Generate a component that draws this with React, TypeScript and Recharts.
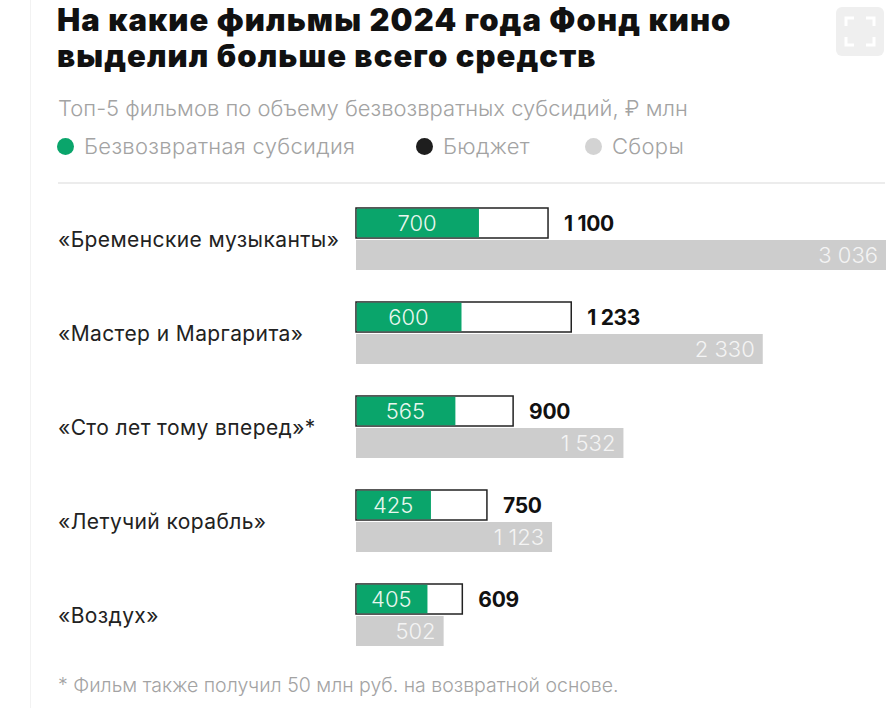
import React from "react";
import { BarChart, Bar, XAxis, YAxis, LabelList } from "recharts";

const films = [
  "«Бременские музыканты»",
  "«Мастер и Маргарита»",
  "«Сто лет тому вперед»*",
  "«Летучий корабль»",
  "«Воздух»",
];
const subsidy = [700, 600, 565, 425, 405];
const budget = [1100, 1233, 900, 750, 609];
const boxOffice = [3036, 2330, 1532, 1123, 502];

const title1 = "На какие фильмы 2024 года Фонд кино";
const title2 = "выделил больше всего средств";
const subtitle = "Топ-5 фильмов по объему безвозвратных субсидий, ₽ млн";
const legendItems = [
  { label: "Безвозвратная субсидия", color: "#0aa56b" },
  { label: "Бюджет", color: "#1e1e1e" },
  { label: "Сборы", color: "#d3d3d3" },
];
const footnote = "* Фильм также получил 50 млн руб. на возвратной основе.";

const data = films.map((name, i) => ({
  name,
  subsidy: subsidy[i],
  budget: budget[i],
  box: boxOffice[i],
}));

const FONT = "Inter, 'Liberation Sans', sans-serif";
const GREEN = "#0aa56b";
const GRAY = "#cdcdcd";

const fmt = (v: number) => {
  const s = String(v);
  return s.length > 3 ? s.slice(0, s.length - 3) + " " + s.slice(-3) : s;
};

const BudgetShape = (props: any) => {
  const { x, y, width, height, payload } = props;
  const gw = (width * payload.subsidy) / payload.budget;
  return (
    <g>
      <rect x={x} y={y} width={width} height={height} fill="#fff" stroke="#222" strokeWidth={1.5} />
      <rect x={x + 0.75} y={y + 0.75} width={gw} height={height - 1.5} fill={GREEN} />
      <text
        x={x + gw / 2}
        y={y + height / 2}
        dy="0.36em"
        textAnchor="middle"
        fill="#e9f7ef"
        fontSize={22}
        fontFamily={FONT}
        fontWeight={300}
      >
        {payload.subsidy}
      </text>
    </g>
  );
};

const BudgetLabel = (props: any) => {
  const { x, y, width, height, value } = props;
  return (
    <text
      x={x + width + 16}
      y={y + height / 2}
      dy="0.36em"
      textAnchor="start"
      fill="#111"
      fontSize={21}
      fontWeight={700}
      fontFamily={FONT}
      letterSpacing={-0.3}
    >
      {fmt(value)}
    </text>
  );
};

const BoxLabel = (props: any) => {
  const { x, y, width, height, value } = props;
  return (
    <text
      x={x + width - 8}
      y={y + height / 2}
      dy="0.36em"
      textAnchor="end"
      fill="#f4f4f4"
      fontSize={22}
      fontWeight={300}
      fontFamily={FONT}
    >
      {fmt(value)}
    </text>
  );
};

const FilmTick = (props: any) => {
  const { y, payload } = props;
  return (
    <text x={58} y={y} dy="0.36em" textAnchor="start" fill="#222" fontSize={21} letterSpacing={0.4} fontFamily={FONT}>
      {payload.value}
    </text>
  );
};

export default function App() {
  return (
    <div style={{ position: "relative", width: 890, height: 708, background: "#fff", overflow: "hidden", fontFamily: FONT }}>
      <style>{`body{margin:0}`}</style>
      <div style={{ position: "absolute", left: 30, top: 0, width: 1, height: 708, background: "#f2f2f2" }} />
      <div style={{ position: "absolute", left: 836, top: 7, width: 48, height: 49, borderRadius: 6, background: "#efefef" }}>
        <svg width={48} height={49}>
          <path d="M10 19 V11 H18 M30 11 H38 V19 M38 30 V38 H30 M18 38 H10 V30" stroke="#fff" strokeWidth={3} fill="none" />
        </svg>
      </div>
      <div style={{ position: "absolute", left: 57, top: 2, fontSize: 31, lineHeight: "36px", fontWeight: 900, color: "#111", letterSpacing: 1.1, whiteSpace: "nowrap" }}>
        <div>{title1}</div>
        <div>{title2}</div>
      </div>
      <div style={{ position: "absolute", left: 58, top: 97, fontSize: 22, lineHeight: "22px", color: "#a3a3a3", fontWeight: 300 }}>
        {subtitle}
      </div>
      {legendItems.map((it, i) => {
        const lefts = [57, 416, 585];
        return (
          <div key={it.label} style={{ position: "absolute", left: lefts[i], top: 134, display: "flex", alignItems: "center" }}>
            <div style={{ width: 17, height: 17, borderRadius: "50%", background: it.color, marginRight: 10 }} />
            <div style={{ fontSize: 22, lineHeight: "24px", color: "#a3a3a3", fontWeight: 300, letterSpacing: 0.3 }}>{it.label}</div>
          </div>
        );
      })}
      <div style={{ position: "absolute", left: 58, top: 182, width: 827, height: 2, background: "#ececec" }} />
      <div style={{ position: "absolute", left: 0, top: 192 }}>
        <BarChart
          width={890}
          height={470}
          data={data}
          layout="vertical"
          margin={{ top: 0, right: 4, bottom: 0, left: 0 }}
          barGap={2}
          barSize={30}
        >
          <XAxis type="number" domain={[0, 3036]} hide />
          <YAxis type="category" dataKey="name" width={356} axisLine={false} tickLine={false} tick={<FilmTick />} />
          <Bar dataKey="budget" shape={<BudgetShape />} isAnimationActive={false}>
            <LabelList dataKey="budget" content={<BudgetLabel />} />
          </Bar>
          <Bar dataKey="box" fill={GRAY} isAnimationActive={false}>
            <LabelList dataKey="box" content={<BoxLabel />} />
          </Bar>
        </BarChart>
      </div>
      <div style={{ position: "absolute", left: 58, top: 675, fontSize: 19.5, lineHeight: "20px", color: "#a3a3a3", fontWeight: 300 }}>
        {footnote}
      </div>
    </div>
  );
}
